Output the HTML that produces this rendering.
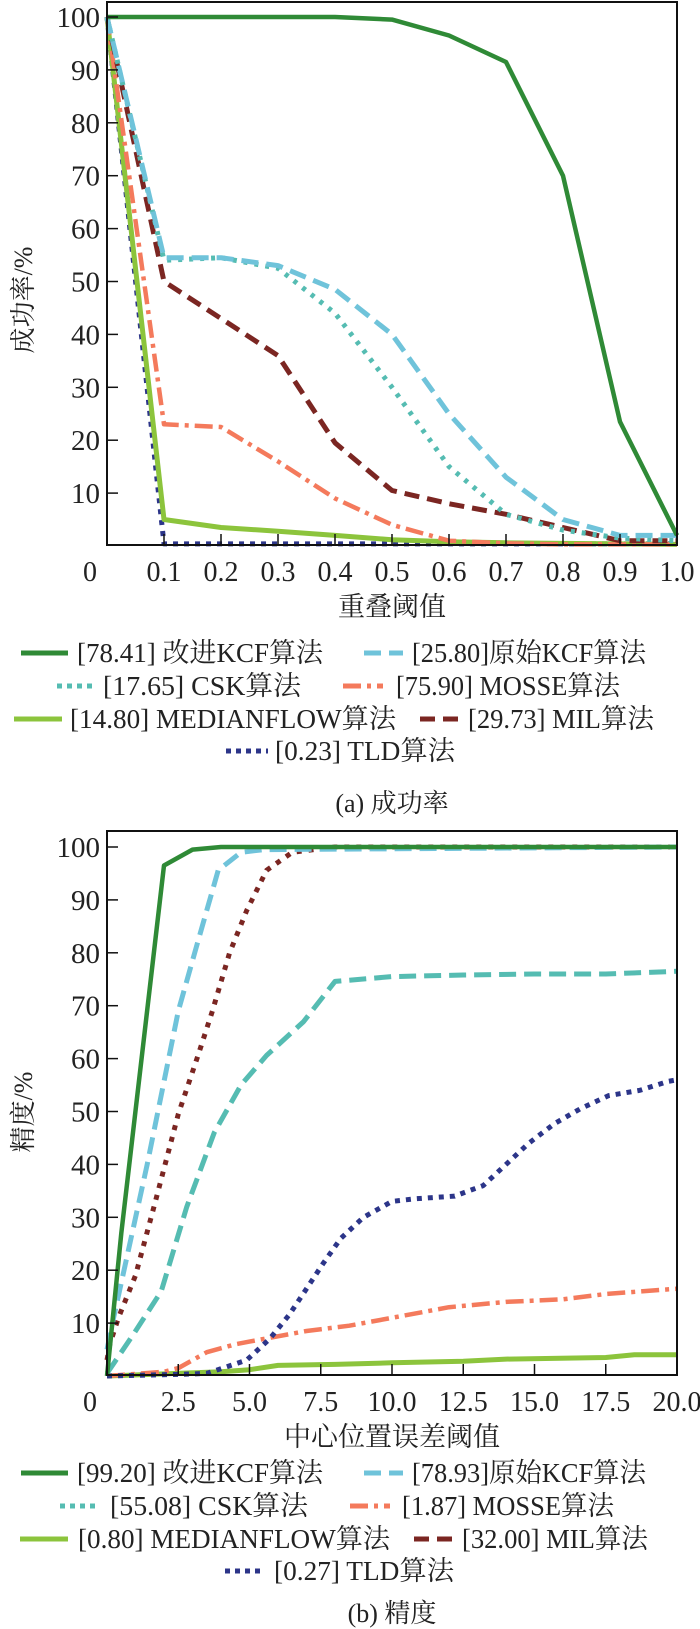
<!DOCTYPE html>
<html><head><meta charset="utf-8">
<style>
html,body{margin:0;padding:0;background:#fff;}
svg{display:block;}
text{font-family:"Liberation Serif","Noto Serif CJK SC","Noto Sans CJK SC",serif;fill:#222;}
</style></head>
<body>
<svg id="fig" width="700" height="1629" viewBox="0 0 700 1629" xmlns="http://www.w3.org/2000/svg"></svg>
<script>
// ---------- Chart (a) data ----------
const xA = [0,0.1,0.2,0.3,0.4,0.5,0.6,0.7,0.8,0.9,1.0];
const a_kcfImproved = [100,100,100,100,100,99.5,96.5,91.5,70,23.5,2];
const a_kcfOriginal = [100,54.5,54.5,53,48.5,40,25,13,5,2,2];
const a_csk = [100,54,54.5,52.5,44,30,15,6,3,1.5,1];
const a_mosse = [100,23,22.5,16,9,4,1,0.5,0.3,0.3,0.3];
const a_medianflow = [100,5,3.5,2.8,2,1.2,0.8,0.6,0.5,0.4,0.3];
const a_mil = [100,50,43,36,19.5,10.5,8,6,3.5,1,1];
const a_tld = [100,0.4,0.4,0.4,0.4,0.4,0.4,0.4,0.4,0.4,0.4];
const a_xTicks = ["0","0.1","0.2","0.3","0.4","0.5","0.6","0.7","0.8","0.9","1.0"];
const a_legendValues = ["78.41","25.80","17.65","75.90","14.80","29.73","0.23"];

// ---------- Chart (b) data ----------
const b_kcfImprovedX = [0,0.5,2,3,4,20];
const b_kcfImprovedY = [0,27,96.5,99.5,100,100];
const b_kcfOriginalX = [0,0.23,1.41,2.5,3.13,3.9,4.7,5.5,20];
const b_kcfOriginalY = [5,11,40,69,81,95.6,99,99.5,100];
const b_redDotX = [0,0.1,0.4,1,1.7,2.5,3.2,3.7,4.3,4.9,5.6,6.5,8,20];
const b_redDotY = [3,6,11,19,33,49.5,60.7,69,80,88,95.6,99,100,100];
const b_tealDashX = [0,0.94,1.9,2.8,3.76,4.7,5.6,6.9,8,10,12.5,15,17.5,20];
const b_tealDashY = [0.5,8,16,32,46,55,60.6,67,74.6,75.5,75.8,76,76,76.5];
const b_tldX = [0,2.5,3.5,4.9,5.7,6.4,7,7.6,8.2,9,10,10.8,12.2,12.7,13.2,14,14.8,15.7,16.6,17.6,18.7,19.7,20];
const b_tldY = [0,0.3,0.5,3,7,11.6,16.5,21.4,26,30,33,33.5,34,35,36,40,44,47.7,50.5,53,54,55.7,56];
const b_mosseX = [0,2,2.5,3.5,4.5,5,7,8.5,10,12,14,16,17.5,20];
const b_mosseY = [0,0.8,1.5,4.5,6,6.5,8.5,9.5,11,13,14,14.5,15.5,16.5];
const b_medianX = [0,4,5,6,8,10,12.5,14,17.5,18.5,20];
const b_medianY = [0,0.8,1.2,2,2.2,2.5,2.8,3.2,3.5,4,4];
const b_xTicks = ["0","2.5","5.0","7.5","10.0","12.5","15.0","17.5","20.0"];
const b_legendValues = ["99.20","78.93","55.08","1.87","0.80","32.00","0.27"];

const yTicks = [10,20,30,40,50,60,70,80,90,100];

const NS = "http://www.w3.org/2000/svg";
const svg = document.getElementById('fig');
function mk(tag, attrs, parent){
  const e = document.createElementNS(NS, tag);
  for (const k in attrs) e.setAttribute(k, attrs[k]);
  (parent||svg).appendChild(e);
  return e;
}
const C = {
  green:"#2f8a36", blue:"#6fc3da", teal:"#55bcb2", salmon:"#f47a5c",
  lime:"#8cc43c", maroon:"#7b2622", navy:"#2c3589"
};
const STY = {
  kcfImproved:{c:C.green,d:"none",w:4.5},
  kcfOriginal:{c:C.blue,d:"17 8",w:5},
  csk:{c:C.teal,d:"4 7",w:5},
  mosse:{c:C.salmon,d:"18 6 4 6",w:4.5},
  median:{c:C.lime,d:"none",w:5},
  mil:{c:C.maroon,d:"15 8",w:5},
  tld:{c:C.navy,d:"5 6",w:5},
  tealDash:{c:C.teal,d:"17 8",w:5},
  redDot:{c:C.maroon,d:"5 7",w:5}
};

const L = 107, R = 677;
function makeChart(cfg){
  const g = mk('g',{});
  
  
  const xs = v => L + (v - cfg.xmin)/(cfg.xmax - cfg.xmin)*(R-L);
  const ys = v => cfg.y0 - v/10*52.9;
  cfg.series.forEach(s=>{
    const pts = s.x.map((xv,i)=>xs(xv).toFixed(1)+","+ys(s.y[i]).toFixed(1)).join(" ");
    const st = STY[s.style];
    const p = mk('polyline',{points:pts,fill:"none",stroke:st.c,"stroke-width":st.w,"stroke-dasharray":st.d,"stroke-linejoin":"round"},g);
    
    
  });
  const fr = mk('rect',{x:L,y:cfg.top,width:R-L,height:cfg.y0-1-cfg.top,fill:"none",stroke:"#111","stroke-width":2},g);
  
  
  yTicks.forEach(t=>{
    const y = ys(t);
    mk('line',{x1:L,x2:L+11,y1:y,y2:y,stroke:"#111","stroke-width":1.5},g);
    const tx = mk('text',{x:L-7,y:y+10,"text-anchor":"end","font-size":29},g);
    tx.textContent = t;
    
    
  });
  cfg.xTicks.forEach((lab,i)=>{
    const v = cfg.xmin + i*(cfg.xmax-cfg.xmin)/(cfg.xTicks.length-1);
    const x = xs(v);
    if(i>0 && i<cfg.xTicks.length-1) mk('line',{x1:x,x2:x,y1:cfg.y0-1,y2:cfg.y0-12,stroke:"#111","stroke-width":1.5},g);
    const tx = mk('text',{x:(i==0?90:x),y:cfg.y0+35,"text-anchor":"middle","font-size":28},g);
    tx.textContent = lab;
    
    
  });
  const xt = mk('text',{x:392,y:cfg.y0+70,"text-anchor":"middle","font-size":27},g);
  xt.textContent = cfg.xTitle;
  
  
  const yt = mk('text',{x:0,y:0,"text-anchor":"middle","font-size":26,transform:`translate(32,${cfg.yTitleY}) rotate(-90)`},g);
  yt.textContent = cfg.yTitle;
  
  
  const names = ["改进KCF算法","原始KCF算法","CSK算法","MOSSE算法","MEDIANFLOW算法","MIL算法","TLD算法"];
  const styles = ["kcfImproved","kcfOriginal","csk","mosse","median","mil","tld"];
  const pos = cfg.legendPos;
  names.forEach((n,i)=>{
    const p = pos[i];
    const st = STY[styles[i]];
    const lg = mk('g',{},g);
    
    
    mk('line',{x1:p[0],x2:p[1],y1:p[3]-9,y2:p[3]-9,stroke:st.c,"stroke-width":5,"stroke-dasharray":st.d==="none"?"none":(styles[i]==="csk"||styles[i]==="tld"?"5 5":st.d)},lg);
    const t = mk('text',{x:p[2],y:p[3],"font-size":27,textLength:p[4],lengthAdjust:"spacingAndGlyphs"},lg);
    const sep = (i==1)?"]":(i==2?"]  ":"] ");
    t.textContent = "["+cfg.legendValues[i]+sep+n;
  });
  const cap = mk('text',{x:392,y:cfg.capY,"text-anchor":"middle","font-size":26},g);
  cap.textContent = cfg.caption;
  
  
}

makeChart({
  name:"success-rate-chart", xmin:0, xmax:1, top:2, y0:546,
  xTicks:a_xTicks, xTitle:"重叠阈值", yTitle:"成功率/%", yTitleY:300,
  legendValues:a_legendValues, caption:"(a) 成功率", capY:812,
  legendPos:[[21,68,77,662,246],[364,403,412,662,234],[57,97,103,695,198],[343,383,396,695,224],[14,62,70,728,326],[420,460,468,728,186],[226,268,275,760,180]],
  series:[
    {name:"series-tld",style:"tld",x:xA,y:a_tld},
    {name:"series-medianflow",style:"median",x:xA,y:a_medianflow},
    {name:"series-mosse",style:"mosse",x:xA,y:a_mosse},
    {name:"series-mil",style:"mil",x:xA,y:a_mil},
    {name:"series-csk",style:"csk",x:xA,y:a_csk},
    {name:"series-kcf-original",style:"kcfOriginal",x:xA,y:a_kcfOriginal},
    {name:"series-kcf-improved",style:"kcfImproved",x:xA,y:a_kcfImproved}
  ]
});

makeChart({
  name:"precision-chart", xmin:0, xmax:20, top:831, y0:1376,
  xTicks:b_xTicks, xTitle:"中心位置误差阈值", yTitle:"精度/%", yTitleY:1112,
  legendValues:b_legendValues, caption:"(b) 精度", capY:1622,
  legendPos:[[21,68,77,1482,246],[364,403,412,1482,234],[60,100,110,1515,198],[350,390,402,1515,212],[20,68,78,1548,312],[414,454,462,1548,186],[225,265,274,1580,180]],
  series:[
    {name:"series-medianflow",style:"median",x:b_medianX,y:b_medianY},
    {name:"series-mosse",style:"mosse",x:b_mosseX,y:b_mosseY},
    {name:"series-tld",style:"tld",x:b_tldX,y:b_tldY},
    {name:"series-teal-dashed",style:"tealDash",x:b_tealDashX,y:b_tealDashY},
    {name:"series-red-dotted",style:"redDot",x:b_redDotX,y:b_redDotY},
    {name:"series-kcf-original",style:"kcfOriginal",x:b_kcfOriginalX,y:b_kcfOriginalY},
    {name:"series-kcf-improved",style:"kcfImproved",x:b_kcfImprovedX,y:b_kcfImprovedY}
  ]
});
</script>
</body></html>
